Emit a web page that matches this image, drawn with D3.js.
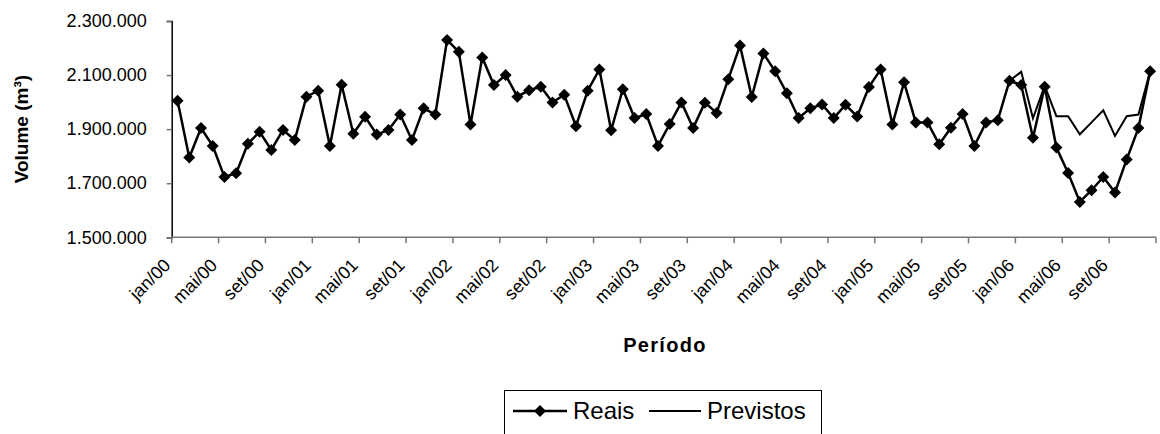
<!DOCTYPE html>
<html>
<head>
<meta charset="utf-8">
<script src="https://cdn.jsdelivr.net/npm/d3@7"></script>
<style>
  body { margin: 0; background: #fff; }
  svg { display: block; font-family: "Liberation Sans", Arial, sans-serif; }
</style>
</head>
<body>
<div id="chart"></div>
<script>
// data
const monthNames = ["jan", "fev", "mar", "abr", "mai", "jun", "jul", "ago", "set", "out", "nov", "dez"];
const years = ["00", "01", "02", "03", "04", "05", "06"];
const periods = years.flatMap((y) => monthNames.map((m) => `${m}/${y}`));

// Reais (m³), jan/00 .. dez/06
const reais = [
  2005000, 1795000, 1904000, 1838000, 1723000, 1737000, 1846000, 1890000, 1823000, 1897000, 1860000, 2020000,
  2042000, 1838000, 2064000, 1883000, 1946000, 1880000, 1897000, 1954000, 1860000, 1977000, 1954000, 2230000,
  2186000, 1917000, 2165000, 2063000, 2100000, 2020000, 2044000, 2057000, 1999000, 2027000, 1911000, 2042000,
  2121000, 1896000, 2048000, 1941000, 1956000, 1838000, 1919000, 1999000, 1904000, 1998000, 1960000, 2085000,
  2209000, 2019000, 2180000, 2114000, 2033000, 1941000, 1977000, 1991000, 1941000, 1990000, 1947000, 2056000,
  2121000, 1917000, 2073000, 1925000, 1925000, 1844000, 1905000, 1956000, 1838000, 1925000, 1933000, 2079000,
  2063000, 1868000, 2057000, 1832000, 1738000, 1631000, 1674000, 1723000, 1666000, 1788000, 1904000, 2114000
];

// Previstos (m³), dez/05 .. dez/06
const previstosPeriods = ["dez/05", "jan/06", "fev/06", "mar/06", "abr/06", "mai/06", "jun/06",
  "jul/06", "ago/06", "set/06", "out/06", "nov/06", "dez/06"];
const previstos = [2079000, 2112000, 1940000, 2060000, 1948000, 1948000, 1881000,
  1925000, 1970000, 1875000, 1948000, 1954000, 2114000];

const yTicks = [1500000, 1700000, 1900000, 2100000, 2300000];
const labelEvery = 4;

////////////////////////////////////////////////////////////////////
// layout
const width = 1160, height = 434;
const plot = { left: 171.7, right: 1156, top: 21, bottom: 237.3 };

const svg = d3.select("#chart").append("svg")
  .attr("width", width)
  .attr("height", height);

const x = d3.scaleBand().domain(periods).range([plot.left, plot.right]);
const xc = (p) => x(p) + x.bandwidth() / 2;
const y = d3.scaleLinear().domain([1500000, 2300000]).range([plot.bottom, plot.top]);

const ptBR = d3.formatLocale({ decimal: ",", thousands: ".", grouping: [3], currency: ["R$", ""] });
const fmt = ptBR.format(",.0f");

// y axis
const yAxis = svg.append("g")
  .attr("transform", `translate(${plot.left},0)`)
  .call(d3.axisLeft(y).tickValues(yTicks).tickSize(5).tickPadding(20).tickFormat(fmt));
yAxis.select(".domain").attr("stroke", "#000").attr("stroke-width", 1.5);
yAxis.selectAll(".tick line").attr("stroke", "#777").attr("stroke-width", 1.5);
yAxis.selectAll(".tick text")
  .attr("font-size", 18)
  .attr("fill", "#000")
  .attr("font-family", "Liberation Sans, Arial, sans-serif");

// x axis: ticks between categories every 4 months
const tickPos = d3.range(0, periods.length + 1, labelEvery).map((i) => plot.left + i * x.step());
const xAxis = svg.append("g");
xAxis.append("line")
  .attr("x1", plot.left).attr("x2", plot.right)
  .attr("y1", plot.bottom).attr("y2", plot.bottom)
  .attr("stroke", "#777").attr("stroke-width", 1.5);
xAxis.selectAll(".xtick")
  .data(tickPos)
  .join("line")
  .attr("x1", (d) => d).attr("x2", (d) => d)
  .attr("y1", plot.bottom).attr("y2", plot.bottom + 6)
  .attr("stroke", "#777").attr("stroke-width", 1.5);

const labelled = periods.filter((d, i) => i % labelEvery === 0);
xAxis.selectAll(".xlabel")
  .data(labelled)
  .join("text")
  .attr("transform", (d) => `translate(${xc(d) - 6},${plot.bottom + 29}) rotate(-45)`)
  .attr("text-anchor", "end")
  .attr("font-size", 18)
  .text((d) => d);

// axis titles
svg.append("text")
  .attr("transform", `translate(28,${(plot.top + plot.bottom) / 2}) rotate(-90)`)
  .attr("text-anchor", "middle")
  .attr("font-size", 19)
  .attr("font-weight", "bold")
  .text("Volume (m³)");

svg.append("text")
  .attr("x", 665)
  .attr("y", 352)
  .attr("text-anchor", "middle")
  .attr("font-size", 20)
  .attr("font-weight", "bold")
  .attr("letter-spacing", 1.3)
  .text("Período");

// lines
const line = d3.line().x((d) => xc(d.p)).y((d) => y(d.v));

const reaisData = periods.map((p, i) => ({ p, v: reais[i] }));
const prevData = previstosPeriods.map((p, i) => ({ p, v: previstos[i] }));

svg.append("path")
  .datum(prevData)
  .attr("d", line)
  .attr("fill", "none")
  .attr("stroke", "#000")
  .attr("stroke-width", 2);

svg.append("path")
  .datum(reaisData)
  .attr("d", line)
  .attr("fill", "none")
  .attr("stroke", "#000")
  .attr("stroke-width", 2.5);

const diamond = d3.symbol().type(d3.symbolSquare).size(72);
svg.selectAll(".marker")
  .data(reaisData)
  .join("path")
  .attr("transform", (d) => `translate(${xc(d.p)},${y(d.v)}) rotate(45)`)
  .attr("d", diamond)
  .attr("fill", "#000");

// legend
const lg = svg.append("g");
lg.append("rect")
  .attr("x", 504.5).attr("y", 390.5)
  .attr("width", 317).attr("height", 60)
  .attr("fill", "#fff")
  .attr("stroke", "#000")
  .attr("stroke-width", 1);

const legendY = 411;
lg.append("line")
  .attr("x1", 513).attr("x2", 567)
  .attr("y1", legendY).attr("y2", legendY)
  .attr("stroke", "#000").attr("stroke-width", 2.5);
lg.append("path")
  .attr("transform", `translate(540,${legendY}) rotate(45)`)
  .attr("d", diamond)
  .attr("fill", "#000");
lg.append("text")
  .attr("x", 573).attr("y", legendY + 8)
  .attr("font-size", 24)
  .text("Reais");

lg.append("line")
  .attr("x1", 649).attr("x2", 701)
  .attr("y1", legendY).attr("y2", legendY)
  .attr("stroke", "#000").attr("stroke-width", 2);
lg.append("text")
  .attr("x", 707).attr("y", legendY + 8)
  .attr("font-size", 24)
  .text("Previstos");
</script>
</body>
</html>
